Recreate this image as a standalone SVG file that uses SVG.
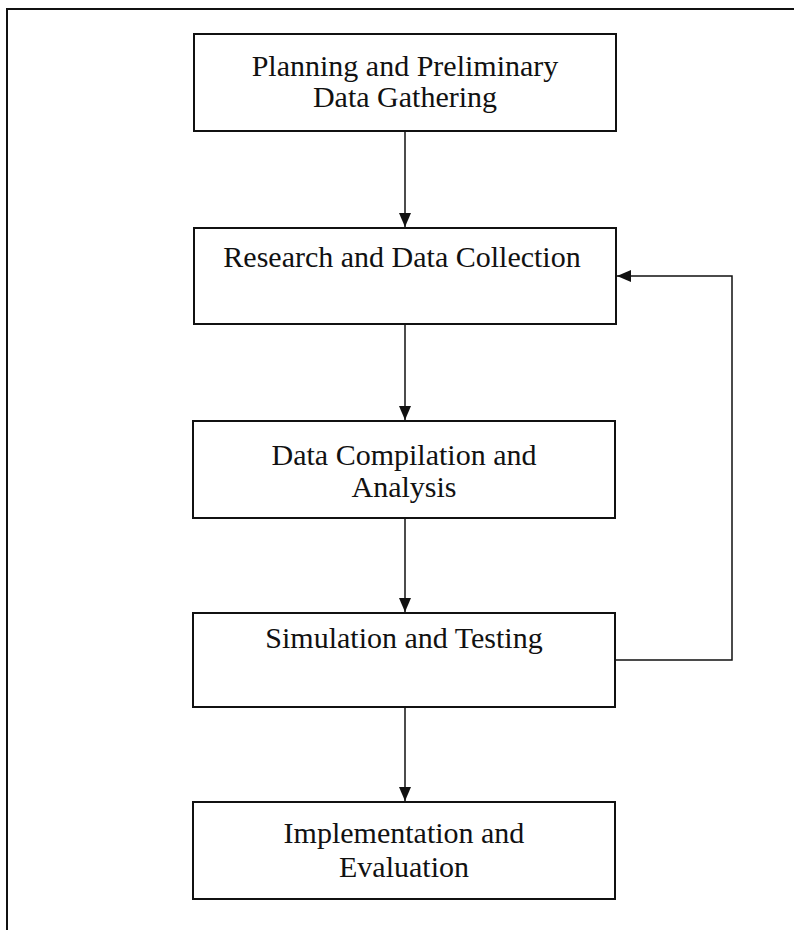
<svg xmlns="http://www.w3.org/2000/svg" width="794" height="930" viewBox="0 0 794 930">
<style>
.box{fill:#fff;stroke:#111;stroke-width:2}
.lbl{font-family:"Liberation Serif","Times New Roman",serif;font-size:30px;fill:#111;text-anchor:middle}
.conn{fill:none;stroke:#111;stroke-width:1.5}
.frame{fill:none;stroke:#111;stroke-width:2}
</style>
<defs>
<marker id="ah" viewBox="0 0 14 12" refX="14" refY="6" markerWidth="14" markerHeight="12" markerUnits="userSpaceOnUse" orient="auto">
<path d="M0,0 L14,6 L0,12 Z" fill="#111"/>
</marker>
</defs>
<rect width="794" height="930" fill="#fff"/>
<path class="frame" d="M7,930 V9 H794"/>
<g id="connectors">
<line class="conn" x1="405" y1="131" x2="405" y2="227" marker-end="url(#ah)"/>
<line class="conn" x1="405" y1="324" x2="405" y2="420" marker-end="url(#ah)"/>
<line class="conn" x1="405" y1="518" x2="405" y2="612" marker-end="url(#ah)"/>
<line class="conn" x1="405" y1="707" x2="405" y2="801" marker-end="url(#ah)"/>
<path class="conn" d="M615,660 H732 V276 H617" marker-end="url(#ah)"/>
</g>
<g id="n1">
<rect class="box" x="194" y="34" width="422" height="97"/>
<text class="lbl" x="405" y="76">Planning and Preliminary</text>
<text class="lbl" x="405" y="107">Data Gathering</text>
</g>
<g id="n2">
<rect class="box" x="194" y="228" width="422" height="96"/>
<text class="lbl" x="402" y="267">Research and Data Collection</text>
</g>
<g id="n3">
<rect class="box" x="193" y="421" width="422" height="97"/>
<text class="lbl" x="404" y="465">Data Compilation and</text>
<text class="lbl" x="404" y="497">Analysis</text>
</g>
<g id="n4">
<rect class="box" x="193" y="613" width="422" height="94"/>
<text class="lbl" x="404" y="648">Simulation and Testing</text>
</g>
<g id="n5">
<rect class="box" x="193" y="802" width="422" height="97"/>
<text class="lbl" x="404" y="843">Implementation and</text>
<text class="lbl" x="404" y="877">Evaluation</text>
</g>
</svg>
